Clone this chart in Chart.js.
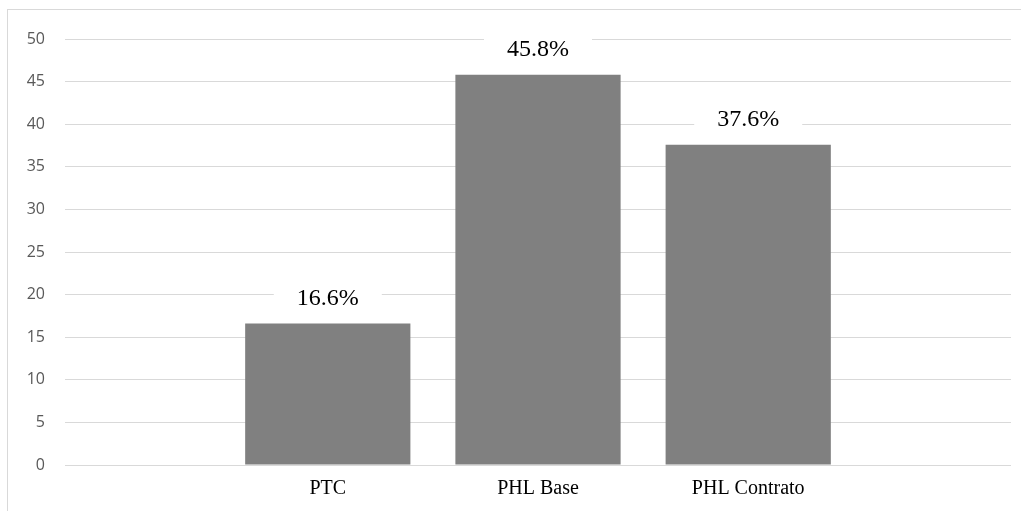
<!DOCTYPE html>
<html>
<head>
<meta charset="utf-8">
<script src="https://cdn.jsdelivr.net/npm/chart.js@4/dist/chart.umd.min.js"></script>
<style>
  html, body { margin: 0; padding: 0; background: #ffffff; }
  #wrap { position: relative; width: 1021px; height: 511px; }
</style>
</head>
<body>
<div id="wrap"><canvas id="c" width="1021" height="511"></canvas></div>
<script>
// Chart data
const categories = ['PTC', 'PHL Base', 'PHL Contrato'];
const values = [16.6, 45.8, 37.6];
const yTicks = [0, 5, 10, 15, 20, 25, 30, 35, 40, 45, 50];

const valueLabels = values.map(v => v.toFixed(1) + '%');
const positions = categories.map((_, i) => i);

// Light frame around the chart area
const framePlugin = {
  id: 'frame',
  beforeDraw(chart) {
    const ctx = chart.ctx;
    ctx.save();
    ctx.strokeStyle = '#d9d9d9';
    ctx.lineWidth = 1;
    ctx.strokeRect(7.5, 9.5, 1100, 600);
    ctx.restore();
  }
};

// Percentage labels above each bar, on a white backing box
const valueLabelPlugin = {
  id: 'valueLabels',
  afterDatasetsDraw(chart) {
    const ctx = chart.ctx;
    const meta = chart.getDatasetMeta(0);
    ctx.save();
    ctx.font = '24px "Liberation Serif", "Times New Roman", serif';
    ctx.textAlign = 'center';
    ctx.textBaseline = 'alphabetic';
    meta.data.forEach((bar, i) => {
      const text = valueLabels[i];
      const w = ctx.measureText(text).width;
      const base = bar.y - 18.5;
      ctx.fillStyle = '#ffffff';
      ctx.fillRect(bar.x - w / 2 - 23, base - 24, w + 46, 31);
      ctx.fillStyle = '#000000';
      ctx.fillText(text, bar.x, base);
    });
    ctx.restore();
  }
};

new Chart(document.getElementById('c'), {
  type: 'bar',
  data: {
    datasets: [{
      data: positions.map((p, i) => ({ x: p, y: values[i] })),
      backgroundColor: '#808080',
      borderWidth: 0,
      categoryPercentage: 1,
      barPercentage: 0.786
    }]
  },
  options: {
    responsive: false,
    animation: false,
    devicePixelRatio: 1,
    layout: { padding: { top: 39, right: 10, bottom: 0, left: 0 } },
    plugins: {
      legend: { display: false },
      tooltip: { enabled: false }
    },
    scales: {
      x: {
        type: 'linear',
        offset: false,
        min: -1.25,
        max: 3.25,
        grid: { display: false, drawTicks: false },
        border: { display: false },
        afterBuildTicks(scale) {
          scale.ticks = positions.map(p => ({ value: p }));
        },
        afterFit(scale) { scale.height = 46; },
        ticks: {
          autoSkip: false,
          maxRotation: 0,
          padding: 12,
          color: '#000000',
          font: { family: '"Liberation Serif", "Times New Roman", serif', size: 20 },
          callback: (v) => categories[v] ?? ''
        }
      },
      y: {
        min: 0,
        max: 50,
        grid: { color: '#d9d9d9', lineWidth: 1, drawTicks: false },
        border: { display: false },
        afterBuildTicks(scale) {
          scale.ticks = yTicks.map(v => ({ value: v }));
        },
        afterFit(scale) { scale.width = 65; },
        ticks: {
          padding: 20,
          color: '#595959',
          font: { family: '"Open Sans", sans-serif', size: 16 }
        }
      }
    }
  },
  plugins: [framePlugin, valueLabelPlugin]
});
</script>
</body>
</html>
